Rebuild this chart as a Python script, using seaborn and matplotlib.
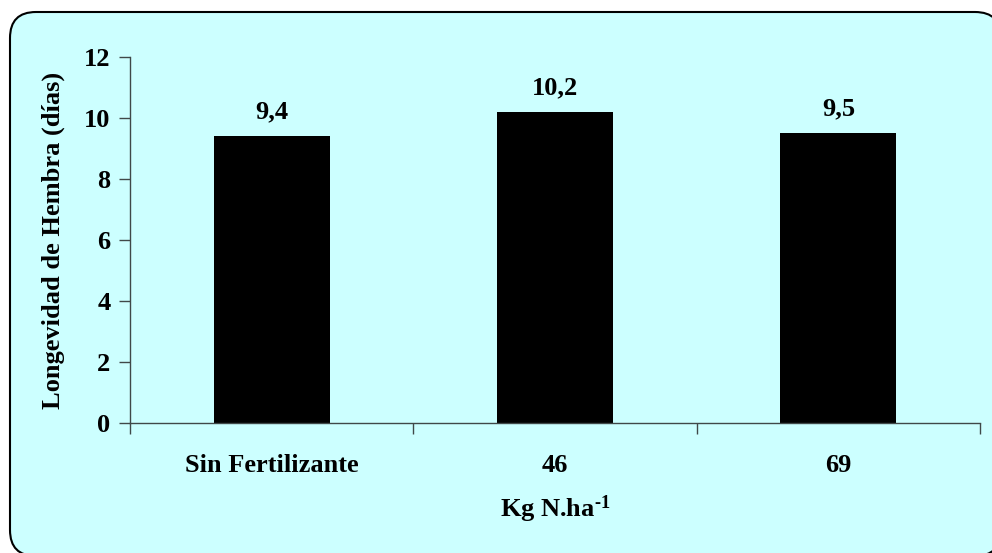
import matplotlib
matplotlib.use("Agg")
import matplotlib.pyplot as plt
from matplotlib.patches import FancyBboxPatch
from matplotlib.transforms import IdentityTransform
import seaborn as sns
import pandas as pd

# Female longevity by nitrogen dose
categories = ["Sin Fertilizante", "46", "69"]
longevity = [9.4, 10.2, 9.5]
value_labels = ["9,4", "10,2", "9,5"]
y_ticks = [0, 2, 4, 6, 8, 10, 12]

sns.set_style("white")
plt.rcParams["font.family"] = ["Liberation Serif", "DejaVu Serif"]
plt.rcParams["font.weight"] = "bold"
plt.rcParams["text.color"] = "black"
plt.rcParams["axes.labelcolor"] = "black"
plt.rcParams["xtick.color"] = "black"
plt.rcParams["ytick.color"] = "black"
plt.rcParams["mathtext.fontset"] = "custom"
plt.rcParams["mathtext.rm"] = "Liberation Serif:bold"
plt.rcParams["mathtext.bf"] = "Liberation Serif:bold"
plt.rcParams["mathtext.default"] = "rm"

W, H = 992, 553
fig = plt.figure(figsize=(W / 100, H / 100), dpi=100)
fig.patch.set_facecolor("white")

# rounded frame behind the chart (pixel coordinates, runs off the right/bottom edges)
frame = FancyBboxPatch((10, -3), 991, H - 12 + 3,
                       boxstyle="round,pad=0,rounding_size=26",
                       transform=IdentityTransform(), facecolor="#CCFFFF",
                       edgecolor="black", linewidth=1.5, zorder=0)
fig.patches.append(frame)

ax = fig.add_axes([130 / W, 1 - 423 / H, 850 / W, 366 / H])
ax.set_zorder(2)
ax.set_facecolor("none")

df = pd.DataFrame({"dose": categories, "days": longevity})
sns.barplot(data=df, x="dose", y="days", order=categories, color="black",
            width=0.41, saturation=1, edgecolor="black", linewidth=0, ax=ax)

ax.set_ylim(0, 12)
ax.set_xlim(-0.5, 2.5)
ax.set_yticks(y_ticks)
ax.set_yticklabels([str(t) for t in y_ticks], fontsize=19, fontweight="bold")

# category separators as ticks, names centred between them
ax.set_xticks([-0.5, 0.5, 1.5, 2.5])
ax.set_xticklabels([])
ax.set_xticks([0, 1, 2], minor=True)
ax.set_xticklabels(categories, minor=True, fontsize=19, fontweight="bold")
ax.tick_params(axis="x", which="minor", bottom=True, length=0, pad=22)
ax.tick_params(axis="x", which="major", bottom=True, length=8, width=1,
               color="#404848", direction="out")
ax.tick_params(axis="y", left=True, length=8, width=1, color="#404848",
               direction="out", pad=6)

for side in ("top", "right"):
    ax.spines[side].set_visible(False)
for side in ("left", "bottom"):
    ax.spines[side].set_color("#404848")
    ax.spines[side].set_linewidth(1)

for i, (v, lab) in enumerate(zip(longevity, value_labels)):
    ax.annotate(lab, (i, v), xytext=(0, 13), textcoords="offset points",
                ha="center", va="baseline", fontsize=19, fontweight="bold")

ax.set_xlabel(r"Kg N.ha$^{\text{-}1}$", fontsize=19, fontweight="bold",
              labelpad=12)
ax.set_ylabel("Longevidad de Hembra (días)", fontsize=19, fontweight="bold",
              labelpad=14)

fig.savefig("out.png", dpi=100)
